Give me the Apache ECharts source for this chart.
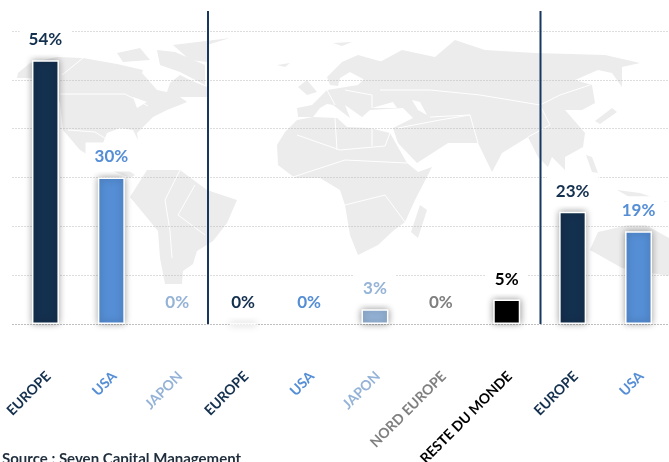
<!DOCTYPE html>
<html>
<head>
<meta charset="utf-8">
<style>
  html, body { margin: 0; padding: 0; background: #fff; overflow: hidden; }
  #chart { width: 669px; height: 462px; }
</style>
</head>
<body>
<div id="chart"></div>
<script src="https://cdn.jsdelivr.net/npm/echarts@6/dist/echarts.min.js"></script>
<script>
const categories = ["EUROPE", "USA", "JAPON", "EUROPE", "USA", "JAPON", "NORD EUROPE", "RESTE DU MONDE", "EUROPE", "USA"];
const values = [54, 30, 0, 0, 0, 3, 0, 5, 23, 19];
const colors = ["#14304f", "#558ed5", "#95b3d7", "#14304f", "#558ed5", "#95b3d7", "#7f7f7f", "#000000", "#14304f", "#558ed5"];
const tickValues = [0, 10, 20, 30, 40, 50, 60];
const sourceText = "Source : Seven Capital Management";

// background map, rough outlines in page pixels (decoration only)
const landShapes = [
  // north america
  [[17,78],[18,73],[30,63],[57,57],[83,58],[117,64],[143,70],[142,73],[150,82],[157,90],[167,92],[170,83],[180,75],[190,80],[207,87],[207,97],[180,97],[187,102],[167,110],[153,117],[143,127],[137,133],[138,140],[133,130],[120,128],[107,133],[103,143],[110,160],[125,168],[135,175],[130,178],[110,170],[88,155],[80,150],[63,130],[60,103],[50,85],[30,78]],
  [[117,53],[140,48],[150,60],[123,62]],
  [[157,50],[175,52],[205,65],[205,85],[180,72],[160,65]],
  [[173,45],[230,38],[207,45],[207,62],[190,60]],
  // south america
  [[130,197],[147,170],[180,170],[207,190],[237,200],[227,223],[213,241],[197,251],[193,264],[183,271],[182,284],[165,284],[160,258],[158,231]],
  // africa
  [[277,145],[285,132],[297,120],[313,117],[337,118],[347,127],[370,128],[390,133],[407,163],[418,172],[432,167],[415,200],[405,222],[393,231],[378,245],[358,255],[350,235],[345,205],[340,190],[320,178],[295,178],[278,165]],
  [[420,205],[427,210],[418,238],[411,232]],
  // eurasia
  [[297,108],[298,117],[313,117],[320,108],[327,104],[333,105],[350,118],[345,105],[362,117],[370,110],[403,108],[413,118],[393,128],[398,143],[417,163],[448,143],[478,143],[492,172],[502,153],[528,137],[538,157],[548,167],[552,157],[565,170],[565,157],[583,147],[585,133],[572,118],[565,110],[582,110],[595,103],[592,85],[575,80],[598,70],[612,73],[622,87],[622,67],[640,63],[605,55],[535,53],[485,50],[455,40],[435,57],[402,50],[378,63],[370,73],[358,85],[327,90],[312,105]],
  [[327,77],[342,62],[358,55],[383,62],[370,73],[365,80],[350,72],[340,78],[338,86],[330,85]],
  [[298,87],[307,80],[317,92],[307,95]],
  [[277,65],[290,63],[285,67]],
  [[333,43],[352,42],[342,46]],
  // japan, islands, australia
  [[612,108],[617,112],[600,124],[595,121]],
  [[586,155],[592,157],[598,173],[592,172]],
  [[565,178],[582,182],[582,196],[570,196]],
  [[617,190],[640,193],[667,202],[640,203]],
  [[590,250],[598,232],[620,227],[640,222],[669,238],[669,276],[622,268]]
];
const holeShapes = [
  [[372,108],[393,102],[397,108],[375,108]],
  [[412,100],[420,102],[427,115],[418,110]],
  [[133,97],[147,102],[137,108]]
];
const borderLines = [
  [[60,94],[125,94],[148,106]],
  [[83,58],[62,75]],
  [[68,130],[95,132],[108,140]],
  [[180,170],[165,200],[170,231],[172,258]],
  [[195,185],[178,215],[205,235]],
  [[297,135],[340,150],[385,146],[390,133]],
  [[335,118],[337,150]],
  [[372,128],[372,146]],
  [[290,178],[345,160],[407,163]],
  [[380,90],[430,90],[480,95],[540,105],[560,95],[590,85]],
  [[478,143],[470,115],[430,117]],
  [[398,128],[440,120],[470,115]],
  [[345,205],[385,195],[405,222]],
  [[345,90],[372,95],[372,108]],
  [[540,105],[550,125],[528,137]],
  [[327,90],[335,105]]
];

const seriesData = values.map((v, i) => ({
  value: v,
  itemStyle: {
    color: colors[i],
    shadowBlur: v > 0 || i === 3 ? 7 : 0,
    borderColor: v > 0 || i === 3 ? "#fff" : "transparent"
  },
  label: { color: colors[i] }
}));

const mapGraphics = [
  ...landShapes.map((points) => ({
    type: "polygon", z: -10, silent: true,
    shape: { points }, style: { fill: "#ececec" }
  })),
  ...holeShapes.map((points) => ({
    type: "polygon", z: -9, silent: true,
    shape: { points }, style: { fill: "#fff" }
  })),
  ...borderLines.map((points) => ({
    type: "polyline", z: -9, silent: true,
    shape: { points }, style: { stroke: "#fff", lineWidth: 1, fill: null }
  }))
];

const dividers = [208, 540.5].map((x) => ({
  type: "line", z: 50, silent: true,
  shape: { x1: x, y1: 11, x2: x, y2: 324 },
  style: { stroke: "#17375e", lineWidth: 2 }
}));

const chart = echarts.init(document.getElementById("chart"));
chart.setOption({
  animation: false,
  backgroundColor: "#fff",
  title: {
    text: sourceText,
    left: 2,
    top: 451.5,
    padding: 0,
    textStyle: { fontFamily: "Lato", fontSize: 15, fontWeight: "bold", color: "#1f2d3d" }
  },
  graphic: [...mapGraphics, ...dividers],
  // second grid only carries the slanted labels, nudged to the right of the bars
  grid: [
    { left: 12.5, top: 31, right: -2.5, height: 293, outerBoundsMode: "none" },
    { left: 15.5, top: 31, right: -5.5, height: 293, outerBoundsMode: "none" }
  ],
  xAxis: [
    {
      type: "category",
      data: categories,
      axisLine: { show: true, lineStyle: { color: "#bbbbbb", type: [1, 2], width: 1 } },
      axisTick: { show: false },
      axisLabel: { show: false }
    },
    {
      type: "category",
      gridIndex: 1,
      data: categories,
      axisLine: { show: false },
      axisTick: { show: false },
      axisLabel: {
        interval: 0,
        rotate: 45,
        margin: 50,
        fontFamily: "Lato",
        fontSize: 14,
        fontWeight: "bold",
        color: (value, index) => colors[index]
      }
    }
  ],
  yAxis: [
    {
      type: "value",
      min: tickValues[0],
      max: tickValues[tickValues.length - 1],
      interval: 10,
      axisLine: { show: false },
      axisTick: { show: false },
      axisLabel: { show: false },
      splitLine: { lineStyle: { color: "#bbbbbb", type: [1, 2], width: 1 } }
    },
    { type: "value", gridIndex: 1, show: false, splitLine: { show: false } }
  ],
  series: [
    {
      type: "bar",
      data: seriesData,
      barWidth: 27,
      itemStyle: {
        borderColor: "#fff",
        borderWidth: 1.5,
        shadowColor: "rgba(0,0,0,0.4)"
      },
      label: {
        show: true,
        position: "top",
        distance: 6,
        formatter: "{c}%",
        fontFamily: "Lato",
        fontSize: 17,
        fontWeight: "bold",
        backgroundColor: "#fff",
        padding: [6, 9]
      }
    }
  ]
});
</script>
</body>
</html>
